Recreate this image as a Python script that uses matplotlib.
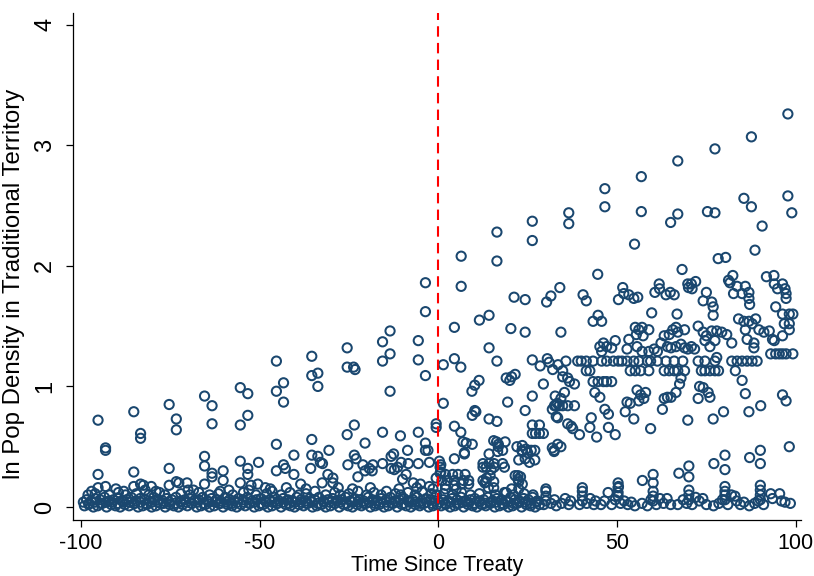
import numpy as np
import matplotlib
matplotlib.use('Agg')
import matplotlib.pyplot as plt

plt.rcParams['font.family'] = ['Liberation Sans', 'DejaVu Sans']
plt.rcParams['axes.unicode_minus'] = False

# years relative to treaty, ln pop density
treaty_year = 0

pre_high = [
    (-95.2, 0.72), (-93.1, 0.49), (-93.1, 0.47), (-95.2, 0.27), (-95.2, 0.16), (-93.1, 0.17), (-90.2, 0.15),
    (-85.2, 0.79), (-83.3, 0.61), (-83.3, 0.57), (-85.2, 0.29), (-85.2, 0.17), (-83.3, 0.19), (-82.5, 0.18), (-80.3, 0.17),
    (-75.3, 0.85), (-73.3, 0.73), (-73.3, 0.64), (-75.3, 0.32), (-75.3, 0.18), (-73.3, 0.21), (-72.6, 0.20), (-70.3, 0.20), (-68.5, 0.14),
    (-65.4, 0.92), (-63.3, 0.84), (-63.3, 0.69), (-65.4, 0.42), (-65.4, 0.34), (-63.3, 0.28), (-63.3, 0.25), (-60.2, 0.30),
    (-60.2, 0.22), (-65.4, 0.19), (-58.6, 0.14),
    (-55.4, 0.99), (-53.3, 0.94), (-53.3, 0.76), (-55.4, 0.68), (-55.4, 0.38), (-53.3, 0.32), (-53.3, 0.27), (-50.3, 0.37),
    (-55.4, 0.20), (-52.4, 0.18), (-50.5, 0.19), (-48.4, 0.16),
    (-45.3, 1.21), (-43.3, 1.03), (-45.3, 0.96), (-43.3, 0.87), (-45.3, 0.52), (-45.3, 0.30), (-43.3, 0.35), (-42.8, 0.32),
    (-40.4, 0.43), (-40.4, 0.27), (-38.5, 0.19), (-42.5, 0.16),
    (-35.4, 1.25), (-35.4, 1.09), (-33.7, 1.11), (-33.7, 1.00), (-35.4, 0.56), (-33.7, 0.42), (-33.0, 0.37), (-32.4, 0.36),
    (-35.4, 0.43), (-35.7, 0.32), (-30.6, 0.47), (-32.5, 0.20), (-29.5, 0.20), (-29.5, 0.24), (-30.9, 0.27),
    (-25.5, 1.32), (-25.5, 1.16), (-23.7, 1.16), (-23.3, 1.14), (-25.5, 0.60), (-23.5, 0.68), (-23.5, 0.43), (-23.0, 0.40),
    (-25.3, 0.35), (-21.1, 0.35), (-20.5, 0.53), (-20.5, 0.30), (-18.3, 0.35), (-19.3, 0.32), (-22.5, 0.25), (-18.5, 0.30),
    (-15.6, 1.37), (-13.5, 1.46), (-15.6, 1.21), (-13.5, 1.27), (-13.5, 0.96), (-15.6, 0.62), (-15.6, 0.36), (-13.2, 0.42),
    (-12.5, 0.44), (-13.2, 0.32), (-12.3, 0.31), (-11.4, 0.33), (-10.6, 0.59), (-10.0, 0.23), (-9.0, 0.27),
    (-5.6, 1.38), (-5.6, 1.22), (-3.6, 1.86), (-3.6, 1.62), (-3.6, 1.09), (-5.6, 0.62), (-3.6, 0.53), (-3.6, 0.47),
    (-2.9, 0.47), (-8.6, 0.47), (-10.4, 0.37), (-8.4, 0.36), (-5.6, 0.36), (-2.5, 0.37), (0.3, 0.38), (-0.6, 0.69),
    (-0.6, 0.66), (-7.0, 0.20), (-5.0, 0.19), (-2.5, 0.17), (-0.6, 0.24), (0.5, 0.33), (0.5, 0.28),
]

post_high = [
    (6.4, 2.08), (16.4, 2.28), (26.3, 2.37), (36.5, 2.44), (46.6, 2.64), (56.8, 2.74), (67.0, 2.87), (77.4, 2.97),
    (87.6, 3.07), (97.8, 3.26),
    (6.4, 1.83), (16.4, 2.04), (26.3, 2.21), (36.5, 2.35), (46.6, 2.49), (56.8, 2.45), (67.0, 2.43), (77.4, 2.44),
    (75.3, 2.45), (87.6, 2.49), (85.5, 2.56), (97.8, 2.58), (98.9, 2.44), (65.0, 2.36), (90.6, 2.33), (54.9, 2.18),
    (88.6, 2.13), (78.3, 2.06), (80.4, 2.07), (44.6, 1.93), (68.2, 1.97), (72.0, 1.87), (70.0, 1.82), (71.0, 1.81),
    (81.6, 1.86), (82.4, 1.92), (91.8, 1.91), (93.9, 1.92), (94.9, 1.81), (97.0, 1.81), (34.0, 1.82), (51.9, 1.77),
    (61.9, 1.81),
    (21.2, 1.74), (24.3, 1.72), (30.3, 1.70), (31.5, 1.75), (11.5, 1.55), (14.2, 1.59), (4.5, 1.49), (20.3, 1.48),
    (24.3, 1.45), (34.3, 1.45), (14.2, 1.32), (16.4, 1.21), (1.4, 1.18), (6.3, 1.16), (4.5, 1.23), (1.4, 0.86),
    (19.0, 1.07), (20.0, 1.05), (21.5, 1.10), (20.5, 1.08), (26.3, 1.22), (28.5, 1.17), (30.5, 1.23), (31.0, 1.20),
    (32.0, 1.14), (33.5, 1.18), (9.4, 0.96), (10.2, 1.01), (11.4, 1.05), (29.4, 1.02), (26.3, 0.92), (19.4, 0.87),
    (24.3, 0.80), (32.7, 0.92), (32.5, 0.84), (33.3, 0.86), (33.0, 0.75), (9.5, 0.76), (10.5, 0.79), (10.2, 0.80),
    (14.2, 0.73), (16.4, 0.71), (26.3, 0.68), (28.3, 0.68), (26.3, 0.61), (27.2, 0.61), (28.3, 0.61), (29.4, 0.61),
    (4.5, 0.67), (6.3, 0.62), (6.9, 0.54), (7.8, 0.53), (9.5, 0.52), (7.3, 0.45), (4.5, 0.40), (14.2, 0.44),
    (15.5, 0.55), (16.3, 0.54), (16.8, 0.52), (18.7, 0.54), (18.0, 0.47), (16.8, 0.50), (22.0, 0.50), (23.5, 0.51),
    (24.5, 0.48), (25.0, 0.45), (23.5, 0.46), (27.0, 0.47), (22.5, 0.39), (24.3, 0.40), (27.0, 0.39), (12.5, 0.36),
    (14.2, 0.36), (15.6, 0.36), (18.0, 0.36), (12.5, 0.33), (13.4, 0.33), (15.6, 0.33), (18.5, 0.33), (14.8, 0.31),
    (21.5, 0.26), (22.3, 0.26), (22.3, 0.23), (12.5, 0.22), (13.0, 0.20), (13.4, 0.21),
    (7.3, 0.44), (0.7, 0.35), (0.7, 0.29), (16.6, 0.46), (23.4, 0.47), (26.0, 0.47), (25.5, 0.37), (32.4, 0.47),
    (2.0, 0.27), (4.0, 0.27), (5.5, 0.27), (7.5, 0.27), (1.0, 0.22), (2.5, 0.22), (4.5, 0.22), (7.0, 0.22),
    (8.5, 0.22), (2.0, 0.18), (4.5, 0.18), (6.5, 0.19), (8.5, 0.19), (2.0, 0.15), (5.0, 0.15), (13.5, 0.24),
    (14.5, 0.26), (15.5, 0.21), (14.0, 0.16), (15.5, 0.16), (23.0, 0.25), (22.5, 0.21), (23.5, 0.19), (20.5, 0.15),
    (22.5, 0.15), (19.0, 0.12),
    (40.5, 1.76), (41.4, 1.71), (51.6, 1.82), (50.4, 1.72), (53.3, 1.76), (54.7, 1.73), (55.8, 1.74), (60.6, 1.78),
    (61.8, 1.85), (63.7, 1.76), (64.9, 1.78), (66.0, 1.76), (69.8, 1.85), (70.8, 1.85), (75.0, 1.78), (74.1, 1.71),
    (76.5, 1.70), (76.9, 1.66), (76.9, 1.59), (81.2, 1.88), (83.6, 1.83), (85.9, 1.83), (86.9, 1.78), (82.6, 1.77),
    (85.0, 1.77), (86.9, 1.73), (87.1, 1.68), (94.0, 1.85), (96.3, 1.85), (97.3, 1.77), (97.3, 1.73), (94.4, 1.66),
    (96.3, 1.60), (99.2, 1.60), (98.2, 1.60),
    (43.3, 1.54), (44.7, 1.59), (45.7, 1.54), (59.7, 1.61), (66.8, 1.60),
    (84.0, 1.56), (85.5, 1.54), (86.9, 1.54), (88.8, 1.56), (87.8, 1.52), (85.9, 1.47), (86.4, 1.39), (88.3, 1.36),
    (88.3, 1.32), (89.7, 1.47), (91.1, 1.45), (92.6, 1.46), (93.5, 1.39), (94.0, 1.38), (96.8, 1.52), (98.2, 1.52),
    (98.2, 1.47), (96.3, 1.42), (93.0, 1.27), (94.4, 1.27), (95.4, 1.27), (96.3, 1.27), (97.3, 1.27), (99.2, 1.27),
    (55.1, 1.49), (56.1, 1.47), (57.0, 1.49), (58.9, 1.47), (55.4, 1.43), (57.3, 1.42), (63.2, 1.42), (64.6, 1.43),
    (65.6, 1.47), (66.5, 1.49), (68.9, 1.47), (67.0, 1.45), (72.7, 1.50), (74.1, 1.45), (75.0, 1.42), (76.5, 1.46),
    (77.9, 1.46), (79.3, 1.45), (80.7, 1.43), (82.1, 1.36),
    (45.2, 1.33), (46.2, 1.36), (47.1, 1.33), (48.5, 1.32), (49.5, 1.38), (45.7, 1.29), (53.3, 1.39), (52.8, 1.31),
    (55.6, 1.33), (57.0, 1.29), (58.9, 1.29), (60.4, 1.31), (61.3, 1.29), (62.3, 1.36), (64.1, 1.33), (65.1, 1.32),
    (66.5, 1.33), (67.9, 1.35), (68.9, 1.32), (69.8, 1.31), (70.8, 1.33), (71.7, 1.31), (74.6, 1.38), (76.0, 1.33),
    (77.4, 1.38),
    (35.7, 1.21), (39.0, 1.21), (40.0, 1.21), (41.4, 1.21), (43.3, 1.21), (45.7, 1.21), (47.1, 1.21), (49.0, 1.21),
    (50.4, 1.21), (51.4, 1.21), (52.8, 1.21), (54.7, 1.21), (56.1, 1.21), (58.5, 1.21), (59.4, 1.21), (61.3, 1.21),
    (63.7, 1.21), (66.0, 1.21), (68.4, 1.21), (72.7, 1.21), (74.6, 1.21), (77.4, 1.21), (82.1, 1.21), (83.6, 1.21),
    (85.0, 1.21), (86.4, 1.21), (87.8, 1.21), (89.2, 1.21),
    (34.8, 1.13), (41.4, 1.13), (42.4, 1.13), (53.7, 1.13), (55.1, 1.13), (56.6, 1.13), (58.9, 1.13), (63.2, 1.13),
    (64.6, 1.13), (66.0, 1.13), (67.0, 1.13), (68.9, 1.13), (73.6, 1.13), (74.6, 1.13), (76.0, 1.13), (77.4, 1.13),
    (78.4, 1.13), (83.1, 1.13), (85.0, 1.05), (77.9, 1.24), (67.9, 1.07), (67.5, 1.02),
    (34.8, 1.08), (36.2, 1.07), (36.7, 1.04), (38.1, 1.02), (43.3, 1.04), (44.7, 1.04), (46.2, 1.04), (47.1, 1.04),
    (48.5, 1.04), (43.8, 0.95), (45.2, 0.91), (55.6, 0.97), (58.0, 0.95), (73.1, 1.00), (74.1, 0.99), (75.5, 0.95),
    (76.0, 0.91), (72.7, 0.90), (66.5, 0.95), (64.1, 0.91), (63.2, 0.90), (62.7, 0.81), (65.1, 0.91),
    (32.9, 0.84), (33.8, 0.84), (34.8, 0.84), (36.2, 0.84), (38.1, 0.84), (31.9, 0.81), (33.4, 0.74), (34.3, 0.90),
    (35.3, 0.95), (52.8, 0.87), (53.7, 0.86), (52.3, 0.79), (54.7, 0.73), (56.1, 0.88), (57.5, 0.90), (56.6, 0.93),
    (46.6, 0.81), (47.6, 0.77), (42.8, 0.74), (42.4, 0.66), (47.6, 0.66), (49.5, 0.60), (44.3, 0.58), (39.5, 0.60),
    (36.2, 0.69), (37.2, 0.67), (37.6, 0.65), (59.4, 0.65), (69.8, 0.72), (76.9, 0.73), (79.8, 0.79), (86.9, 0.79),
    (90.2, 0.84), (85.9, 0.94), (96.3, 0.93), (97.3, 0.88),
    (33.4, 0.52), (34.3, 0.50), (31.9, 0.49), (32.4, 0.46), (98.2, 0.50),
    (80.2, 0.43), (87.1, 0.41), (90.1, 0.36), (90.1, 0.47), (77.1, 0.36), (80.2, 0.31), (70.1, 0.34), (67.3, 0.28),
    (70.1, 0.25), (60.1, 0.27), (57.1, 0.22), (60.1, 0.20), (50.4, 0.17),
]

pre_band = [
    (-99.0, 0.01), (-97.8, 0.02), (-96.5, 0.00), (-95.3, 0.01), (-94.0, 0.03), (-92.8, 0.00), (-91.5, 0.02), (-90.3, 0.01),
    (-89.0, 0.00), (-87.7, 0.02), (-86.5, 0.01), (-85.2, 0.03), (-84.0, 0.00), (-82.7, 0.01), (-81.5, 0.02), (-80.2, 0.00),
    (-79.0, 0.01), (-77.7, 0.03), (-76.4, 0.00), (-75.2, 0.02), (-74.0, 0.01), (-72.7, 0.00), (-71.5, 0.02), (-70.2, 0.01),
    (-69.0, 0.03), (-67.6, 0.00), (-66.4, 0.01), (-65.2, 0.02), (-64.0, 0.00), (-62.7, 0.01), (-61.4, 0.03), (-60.2, 0.00),
    (-59.0, 0.02), (-57.7, 0.01), (-56.4, 0.00), (-55.2, 0.02), (-54.0, 0.01), (-52.7, 0.03), (-51.5, 0.00), (-50.2, 0.01),
    (-49.0, 0.02), (-47.7, 0.00), (-46.5, 0.01), (-45.2, 0.03), (-44.0, 0.00), (-42.7, 0.02), (-41.4, 0.01), (-40.2, 0.00),
    (-39.0, 0.02), (-37.7, 0.01), (-36.5, 0.03), (-35.2, 0.00), (-34.0, 0.01), (-32.7, 0.02), (-31.5, 0.00), (-30.2, 0.01),
    (-29.0, 0.03), (-27.7, 0.00), (-26.5, 0.02), (-25.2, 0.01), (-24.0, 0.00), (-22.7, 0.02), (-21.5, 0.01), (-20.2, 0.03),
    (-19.0, 0.00), (-17.7, 0.01), (-16.5, 0.02), (-15.2, 0.00), (-14.0, 0.01), (-12.7, 0.03), (-11.5, 0.00), (-10.2, 0.02),
    (-9.0, 0.01), (-7.7, 0.00), (-6.5, 0.02), (-5.2, 0.01), (-4.0, 0.03), (-2.7, 0.00), (-1.5, 0.01), (-0.3, 0.02),
    (-99.3, 0.04), (-97.7, 0.03), (-96.1, 0.04), (-94.5, 0.03), (-92.9, 0.04), (-91.3, 0.04), (-89.7, 0.03), (-88.1, 0.04),
    (-86.5, 0.04), (-84.9, 0.03), (-83.3, 0.04), (-81.7, 0.03), (-80.1, 0.04), (-78.5, 0.04), (-76.9, 0.03), (-75.3, 0.04),
    (-73.7, 0.03), (-72.1, 0.04), (-70.5, 0.04), (-68.9, 0.03), (-67.3, 0.04), (-65.7, 0.03), (-64.1, 0.04), (-62.5, 0.04),
    (-60.9, 0.03), (-59.3, 0.04), (-57.7, 0.03), (-56.1, 0.04), (-54.5, 0.04), (-52.9, 0.03), (-51.3, 0.04), (-49.7, 0.03),
    (-48.1, 0.04), (-46.5, 0.04), (-44.9, 0.03), (-43.3, 0.04), (-41.7, 0.03), (-40.1, 0.04), (-38.5, 0.04), (-36.9, 0.03),
    (-35.3, 0.04), (-33.7, 0.03), (-32.1, 0.04), (-30.5, 0.04), (-28.9, 0.03), (-27.3, 0.04), (-25.7, 0.03), (-24.1, 0.04),
    (-22.5, 0.04), (-20.9, 0.03), (-19.3, 0.04), (-17.7, 0.03), (-16.1, 0.04), (-14.5, 0.04), (-12.9, 0.03), (-11.3, 0.04),
    (-9.7, 0.03), (-8.1, 0.04), (-6.5, 0.04), (-4.9, 0.03), (-3.3, 0.04), (-1.7, 0.03),
    (-98.4, 0.06), (-97.1, 0.05), (-95.9, 0.07), (-94.6, 0.06), (-93.4, 0.08), (-92.1, 0.05), (-90.9, 0.06), (-89.6, 0.07),
    (-88.4, 0.05), (-87.1, 0.06), (-85.9, 0.08), (-84.6, 0.05), (-83.4, 0.07), (-82.1, 0.06), (-80.9, 0.05), (-79.6, 0.08),
    (-78.4, 0.06), (-77.1, 0.05), (-75.9, 0.07), (-74.6, 0.06), (-73.4, 0.08), (-72.1, 0.05), (-70.9, 0.06), (-69.6, 0.07),
    (-68.4, 0.05), (-67.1, 0.06), (-65.9, 0.08), (-64.6, 0.05), (-63.4, 0.07), (-62.1, 0.06), (-60.9, 0.05), (-59.6, 0.08),
    (-58.4, 0.06), (-57.1, 0.05), (-55.9, 0.07), (-54.6, 0.06), (-53.4, 0.08), (-52.1, 0.05), (-50.9, 0.06), (-49.6, 0.07),
    (-48.4, 0.05), (-47.1, 0.06), (-45.9, 0.08), (-44.6, 0.05), (-43.4, 0.07), (-42.1, 0.06), (-40.9, 0.05), (-39.6, 0.08),
    (-38.4, 0.06), (-37.1, 0.05), (-35.9, 0.07), (-34.6, 0.06), (-33.4, 0.08), (-32.1, 0.05), (-30.9, 0.06), (-29.6, 0.07),
    (-28.4, 0.05), (-27.1, 0.06), (-25.9, 0.08), (-24.6, 0.05), (-23.4, 0.07), (-22.1, 0.06), (-20.9, 0.05), (-19.6, 0.08),
    (-18.4, 0.06), (-17.1, 0.05), (-15.9, 0.07), (-14.6, 0.06), (-13.4, 0.08), (-12.1, 0.05), (-10.9, 0.06), (-9.6, 0.07),
    (-8.4, 0.05), (-7.1, 0.06), (-5.9, 0.08), (-4.6, 0.05), (-3.4, 0.07), (-2.1, 0.06), (-0.9, 0.05),
    (-98.0, 0.10), (-96.0, 0.11), (-92.0, 0.10), (-89.5, 0.12), (-87.5, 0.10), (-84.5, 0.11), (-81.0, 0.10), (-78.0, 0.12),
    (-76.5, 0.10), (-72.0, 0.11), (-69.5, 0.10), (-67.0, 0.12), (-64.0, 0.10), (-61.5, 0.11), (-57.5, 0.10), (-54.5, 0.12),
    (-51.0, 0.10), (-48.0, 0.11), (-46.5, 0.13), (-44.0, 0.10), (-41.5, 0.12), (-39.0, 0.10), (-37.0, 0.11), (-34.5, 0.13),
    (-31.5, 0.10), (-29.0, 0.12), (-27.5, 0.10), (-25.0, 0.11), (-22.5, 0.13), (-20.0, 0.10), (-18.0, 0.12), (-16.0, 0.10),
    (-14.5, 0.13), (-12.0, 0.11), (-10.5, 0.10), (-8.5, 0.12), (-6.5, 0.10), (-4.5, 0.13), (-2.0, 0.11), (-0.5, 0.10),
    (-97.0, 0.13), (-88.0, 0.13), (-82.0, 0.14), (-79.0, 0.13), (-70.0, 0.14), (-61.0, 0.13), (-53.0, 0.14), (-47.0, 0.15),
    (-37.0, 0.15), (-28.0, 0.16), (-24.0, 0.15), (-19.0, 0.16), (-11.0, 0.15), (-6.0, 0.16), (-1.5, 0.15),
]

post_band = [
    (0.8, 0.01), (2.1, 0.02), (3.3, 0.00), (4.6, 0.01), (5.8, 0.03), (7.1, 0.00), (8.3, 0.02), (9.6, 0.01),
    (10.8, 0.00), (12.1, 0.02), (13.3, 0.01), (14.6, 0.03), (15.8, 0.00), (17.1, 0.01), (18.3, 0.02), (19.6, 0.00),
    (20.8, 0.01), (22.1, 0.03), (23.3, 0.00), (24.6, 0.02), (25.8, 0.01), (27.1, 0.00), (28.3, 0.02),
    (0.3, 0.04), (1.9, 0.03), (3.5, 0.04), (5.1, 0.03), (6.7, 0.04), (8.3, 0.04), (9.9, 0.03), (11.5, 0.04),
    (13.1, 0.03), (14.7, 0.04), (16.3, 0.04), (17.9, 0.03), (19.5, 0.04), (21.1, 0.03), (22.7, 0.04), (24.3, 0.04),
    (25.9, 0.03), (27.5, 0.04),
    (1.4, 0.06), (2.7, 0.05), (3.9, 0.07), (5.2, 0.06), (6.4, 0.08), (7.7, 0.05), (8.9, 0.06), (10.2, 0.07),
    (11.4, 0.05), (12.7, 0.06), (13.9, 0.08), (15.2, 0.05), (16.4, 0.07), (17.7, 0.06), (18.9, 0.05), (20.2, 0.08),
    (21.4, 0.06), (22.7, 0.05), (23.9, 0.07), (25.2, 0.06), (26.4, 0.08), (27.7, 0.05),
    (1.5, 0.11), (4.0, 0.10), (6.5, 0.12), (9.0, 0.10), (11.5, 0.11), (16.0, 0.10), (18.5, 0.12), (21.0, 0.10),
    (24.0, 0.11), (26.5, 0.10),
    (29.5, 0.02), (30.1, 0.05), (30.1, 0.09), (30.1, 0.13), (30.1, 0.15), (31.5, 0.03), (32.5, 0.06), (33.0, 0.01),
    (34.5, 0.03), (35.5, 0.07), (36.5, 0.02), (37.0, 0.05),
    (39.5, 0.02), (40.3, 0.05), (40.3, 0.09), (40.3, 0.13), (40.3, 0.16), (41.5, 0.03), (42.5, 0.07), (43.5, 0.02),
    (44.0, 0.05), (45.5, 0.02), (46.5, 0.05), (47.5, 0.12), (48.5, 0.02), (49.5, 0.06), (50.3, 0.12), (50.3, 0.16),
    (50.3, 0.20), (50.3, 0.09), (51.0, 0.03), (52.0, 0.05), (53.0, 0.02), (54.0, 0.04), (55.0, 0.01),
    (57.0, 0.03), (58.5, 0.01), (59.5, 0.06), (60.1, 0.09), (60.1, 0.13), (60.1, 0.05), (61.0, 0.02), (62.0, 0.07),
    (63.0, 0.03), (64.0, 0.07), (65.0, 0.02),
    (67.0, 0.02), (68.5, 0.06), (69.5, 0.03), (70.1, 0.14), (70.1, 0.10), (70.1, 0.06), (71.0, 0.02), (72.0, 0.08),
    (73.0, 0.05), (74.0, 0.07), (75.0, 0.02),
    (77.0, 0.01), (78.5, 0.03), (79.5, 0.06), (80.2, 0.17), (80.2, 0.13), (80.2, 0.10), (80.2, 0.06), (81.0, 0.02),
    (82.0, 0.10), (83.0, 0.09), (83.5, 0.05), (84.5, 0.02), (85.5, 0.04),
    (87.0, 0.01), (88.5, 0.03), (89.5, 0.05), (90.1, 0.18), (90.1, 0.14), (90.1, 0.10), (90.1, 0.06), (91.0, 0.02),
    (93.0, 0.11), (93.5, 0.07), (95.5, 0.11), (96.0, 0.05), (97.0, 0.04), (98.5, 0.03),
]

navy = '#1a476f'

pts = np.array(pre_band + post_band + pre_high + post_high)

fig = plt.figure(figsize=(8.14, 5.76), dpi=100)
ax = fig.add_axes([0.0897, 0.0972, 0.894, 0.88])

ax.scatter(pts[:, 0], pts[:, 1], s=44, facecolors='none', edgecolors=navy, linewidths=1.45, zorder=2)
ax.axvline(treaty_year, color='red', lw=1.5, ls=(0, (5, 3)), zorder=3)

ax.set_xlim(-102.2, 101.4)
ax.set_ylim(-0.108, 4.096)
ax.set_xticks([-100, -50, 0, 50, 100])
ax.set_xticklabels(['-100', '-50', '0', '50', '100'], fontsize=15.5)
ax.set_yticks([0, 1, 2, 3, 4])
ax.set_yticklabels(['0', '1', '2', '3', '4'], rotation=90, va='center', fontsize=17)

for s in ['top', 'right']:
    ax.spines[s].set_visible(False)
for s in ['left', 'bottom']:
    ax.spines[s].set_linewidth(0.9)
ax.tick_params(direction='out', length=5, width=0.9)
ax.tick_params(axis='x', pad=4)
ax.tick_params(axis='y', pad=7)

ax.set_xlabel('Time Since Treaty', fontsize=15.5, labelpad=1)
ax.set_ylabel('ln Pop Density in Traditional Territory', fontsize=17.3)
ax.yaxis.set_label_coords(-0.066, 0.465)

fig.savefig('out.png', dpi=100)
